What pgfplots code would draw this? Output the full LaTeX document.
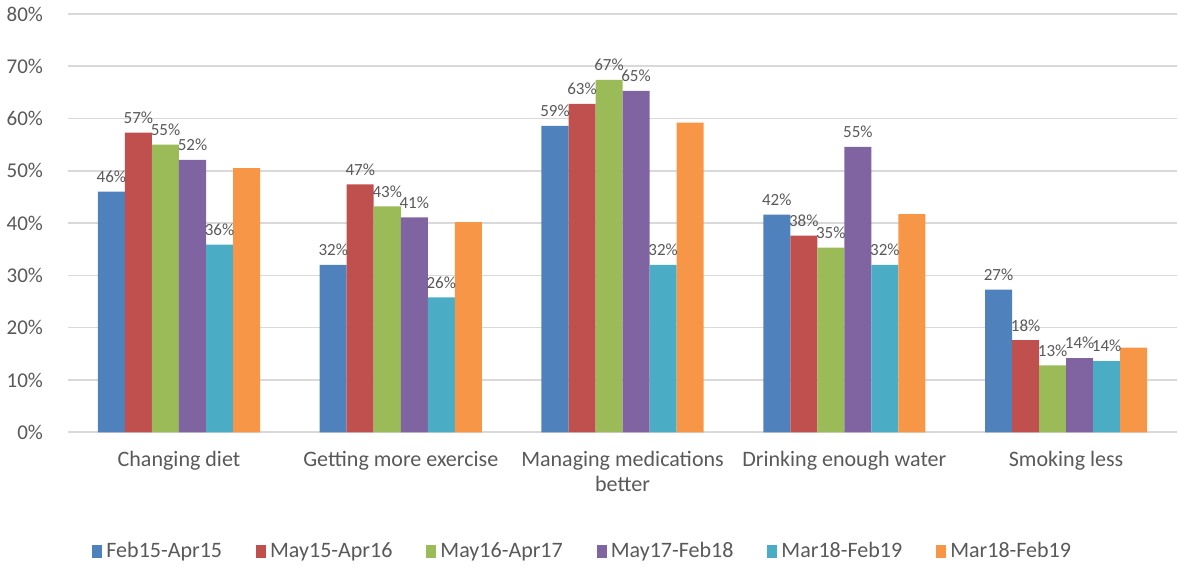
\documentclass[border=0pt]{standalone}
\usepackage{pgfplots}
\pgfplotsset{compat=1.18}
\usepackage{fontspec}
\setmainfont{Carlito}

\definecolor{sblue}{HTML}{4F81BD}
\definecolor{sred}{HTML}{C0504D}
\definecolor{sgreen}{HTML}{9BBB59}
\definecolor{spurple}{HTML}{8064A2}
\definecolor{steal}{HTML}{4BACC6}
\definecolor{sorange}{HTML}{F79646}
\definecolor{gridgray}{HTML}{D9D9D9}
\definecolor{txtgray}{HTML}{595959}

\begin{document}
\begin{tikzpicture}
  \begin{axis}[
    scale only axis,
    width=554pt, height=209pt,
    ybar=0pt, bar width=13.5pt,
    xmin=-0.5, xmax=4.5,
    ymin=0, ymax=80,
    xtick={0,1,2,3,4},
    xticklabels={Changing diet, Getting more exercise, Managing medications\\better, Drinking enough water, Smoking less},
    xticklabel style={align=center, font=\fontsize{11}{12.5}\selectfont, text=txtgray, yshift=-6pt},
    ytick={0,10,...,80},
    yticklabel={\pgfmathprintnumber{\tick}\%},
    yticklabel style={font=\fontsize{10.5}{11}\selectfont, text=txtgray, xshift=-9pt},
    /pgf/number format/assume math mode=true,
    ymajorgrids, grid style={gridgray, line width=0.8pt},
    major tick length=0pt,
    axis line style={draw=none},
    axis x line*=bottom,
    extra y ticks={0}, extra y tick labels={},
    extra y tick style={grid style={gridgray, line width=1pt}},
    every node near coord/.append style={font=\fontsize{8.5}{9}\selectfont, text=txtgray, yshift=1pt},
    nodes near coords style={/pgf/number format/.cd, fixed, precision=0},
    legend style={at={(0.465,-0.285)}, anchor=center, draw=none, legend columns=6,
      font=\fontsize{11}{12}\selectfont, text=txtgray,
      /tikz/every even column/.append style={column sep=15pt}},
    legend image code/.code={\fill[#1] (0pt,-3pt) rectangle (5pt,3.5pt);},
  ]
    \addplot[fill=sblue, draw=none, nodes near coords={\pgfmathprintnumber{\pgfplotspointmeta}\%}] coordinates {(0,46.0) (1,32.0) (2,58.6) (3,41.6) (4,27.3)};
    \addplot[fill=sred, draw=none, nodes near coords={\pgfmathprintnumber{\pgfplotspointmeta}\%}] coordinates {(0,57.3) (1,47.4) (2,62.8) (3,37.6) (4,17.6)};
    \addplot[fill=sgreen, draw=none, nodes near coords={\pgfmathprintnumber{\pgfplotspointmeta}\%}] coordinates {(0,55.0) (1,43.2) (2,67.4) (3,35.3) (4,12.8)};
    \addplot[fill=spurple, draw=none, nodes near coords={\pgfmathprintnumber{\pgfplotspointmeta}\%}] coordinates {(0,52.1) (1,41.1) (2,65.3) (3,54.6) (4,14.2)};
    \addplot[fill=steal, draw=none, nodes near coords={\pgfmathprintnumber{\pgfplotspointmeta}\%}] coordinates {(0,35.9) (1,25.8) (2,32.0) (3,32.0) (4,13.6)};
    \addplot[fill=sorange, draw=none] coordinates {(0,50.5) (1,40.2) (2,59.2) (3,41.7) (4,16.2)};
    \legend{Feb15-Apr15, May15-Apr16, May16-Apr17, May17-Feb18, Mar18-Feb19, Mar18-Feb19}
  \end{axis}
\end{tikzpicture}
\end{document}
